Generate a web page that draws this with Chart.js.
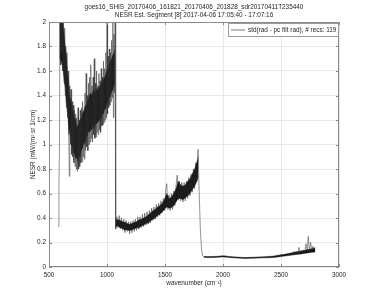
<!DOCTYPE html>
<html>
<head>
<meta charset="utf-8">
<script src="https://cdn.jsdelivr.net/npm/chart.js@4.4.1/dist/chart.umd.min.js"></script>
<style>
  html, body { margin: 0; padding: 0; background: #fff; }
  #wrap { width: 375px; height: 301px; }
</style>
</head>
<body>
<div id="wrap"><canvas id="nesrChart"></canvas></div>
<script>
// ====== TEXT ======
const titleLines = [
  "goes16_SHIS_20170406_161821_20170406_201828_sdr20170411T235440",
  "NESR Est. Segment [8] 2017-04-06 17:05:40 - 17:07:16"
];
const legendLabel = "std(rad - pc filt rad), # recs: 119";

// ====== TICKS ======
const xTicks = [500, 1000, 1500, 2000, 2500, 3000];
const yTicks = [0, 0.2, 0.4, 0.6, 0.8, 1, 1.2, 1.4, 1.6, 1.8, 2];

// ====== SPECTRUM ======
// band 1: 580..1070 cm-1, every 5
const band1Start = 580, band1Step = 5;
const band1 = [
  0.33, 0.6, 0.95, 2.2, 1.65, 2.1, 1.75, 2.3, 1.6, 2.05,
  1.5, 1.95, 1.4, 1.8, 1.3, 1.75, 1.22, 1.6, 1.08, 0.74,
  1.48, 1.0, 1.45, 0.92, 1.35, 0.9, 1.32, 0.85, 1.28, 0.82,
  1.25, 0.8, 1.22, 0.78, 1.3, 0.8, 1.2, 0.82, 1.28, 0.85,
  1.3, 0.86, 1.35, 0.9, 1.28, 0.88, 1.42, 0.95, 1.58, 0.98,
  1.4, 0.95, 1.5, 1.0, 1.55, 1.02, 1.65, 1.05, 1.48, 1.02,
  1.55, 1.08, 1.7, 1.05, 1.5, 1.06, 1.6, 1.1, 1.48, 1.08,
  1.58, 1.12, 1.52, 1.1, 1.62, 1.15, 1.55, 1.16, 1.68, 1.18,
  1.62, 1.2, 1.75, 1.22, 2.1, 1.25, 1.72, 1.3, 1.78, 1.32,
  1.75, 1.35, 1.85, 1.38, 2.2, 1.22, 1.9, 1.42, 2.1
];
// band 2: 1075..1825 cm-1, every 10
const band2Start = 1075, band2Step = 10;
const band2 = [
  0.31, 0.41, 0.32, 0.42, 0.31, 0.4, 0.3, 0.39, 0.28, 0.38,
  0.29, 0.37, 0.27, 0.37, 0.28, 0.38, 0.29, 0.39, 0.3, 0.41,
  0.31, 0.41, 0.32, 0.43, 0.33, 0.44, 0.34, 0.45, 0.35, 0.46,
  0.36, 0.48, 0.38, 0.49, 0.39, 0.51, 0.41, 0.52, 0.42, 0.54,
  0.44, 0.56, 0.46, 0.62, 0.68, 0.47, 0.59, 0.46, 0.6, 0.47,
  0.62, 0.5, 0.66, 0.75, 0.55, 0.7, 0.54, 0.69, 0.53, 0.69,
  0.54, 0.7, 0.56, 0.73, 0.58, 0.76, 0.61, 0.8, 0.64, 0.85,
  0.7, 0.96, 0.6, 0.3, 0.14, 0.09
];
// band 3: 1835..2795 cm-1, every 10
const band3Start = 1835, band3Step = 10;
const band3 = [
  0.085, 0.08, 0.083, 0.078, 0.082, 0.079, 0.084, 0.08, 0.083, 0.081,
  0.084, 0.082, 0.086, 0.083, 0.088, 0.085, 0.09, 0.086, 0.092, 0.088,
  0.086, 0.083, 0.085, 0.08, 0.082, 0.078, 0.081, 0.077, 0.08, 0.076,
  0.078, 0.074, 0.077, 0.073, 0.076, 0.072, 0.075, 0.073, 0.076, 0.074,
  0.077, 0.074, 0.078, 0.075, 0.079, 0.076, 0.08, 0.077, 0.081, 0.078,
  0.08, 0.077, 0.082, 0.078, 0.083, 0.079, 0.082, 0.08, 0.084, 0.081,
  0.085, 0.082, 0.088, 0.086, 0.094, 0.089, 0.098, 0.092, 0.1, 0.095,
  0.104, 0.097, 0.108, 0.1, 0.112, 0.102, 0.118, 0.105, 0.13, 0.108,
  0.125, 0.11, 0.16, 0.115, 0.135, 0.118, 0.14, 0.12, 0.19, 0.125,
  0.25, 0.13, 0.2, 0.135, 0.17, 0.14, 0.16
];

// ====== NOISE ENVELOPES (dense dark core of the noisy trace) ======
const env1Wn = [590, 600, 610, 620, 630, 640, 650, 660, 670, 680, 690, 700, 710, 720, 730,
  740, 750, 760, 770, 780, 790, 800, 810, 820, 830, 840, 850, 860, 870, 880, 890, 900,
  910, 920, 930, 940, 950, 960, 970, 980, 990, 1000, 1010, 1020, 1030, 1040, 1050, 1060, 1068];
const env1Lo = [1.7, 1.7, 1.66, 1.62, 1.53, 1.46, 1.33, 1.26, 1.14, 1.09, 1.0, 0.99, 0.93, 0.93, 0.88,
  0.9, 0.86, 0.91, 0.9, 0.96, 0.97, 1.02, 1.0, 1.06, 1.07, 1.11, 1.1, 1.12, 1.12, 1.16, 1.13, 1.17,
  1.17, 1.18, 1.19, 1.21, 1.21, 1.25, 1.25, 1.29, 1.29, 1.34, 1.34, 1.39, 1.39, 1.43, 1.44, 1.48, 1.5];
const env1Hi = [2.0, 2.0, 2.0, 1.96, 1.9, 1.8, 1.72, 1.57, 1.51, 1.39, 1.36, 1.29, 1.26, 1.21, 1.21,
  1.14, 1.16, 1.17, 1.21, 1.21, 1.26, 1.27, 1.31, 1.32, 1.36, 1.37, 1.41, 1.42, 1.4, 1.44, 1.45, 1.42,
  1.46, 1.44, 1.48, 1.46, 1.5, 1.5, 1.54, 1.55, 1.58, 1.61, 1.62, 1.66, 1.68, 1.7, 1.73, 1.75, 1.78];

const env2Wn = [1075, 1095, 1115, 1135, 1155, 1175, 1195, 1215, 1235, 1255, 1275, 1295, 1315,
  1335, 1355, 1375, 1395, 1415, 1435, 1455, 1475, 1495, 1515, 1535, 1555, 1575, 1595, 1615,
  1635, 1655, 1675, 1695, 1715, 1735, 1755, 1775, 1788];
const env2Lo = [0.33, 0.335, 0.32, 0.315, 0.3, 0.305, 0.295, 0.305, 0.31, 0.32, 0.32, 0.335, 0.34,
  0.355, 0.36, 0.375, 0.39, 0.4, 0.42, 0.43, 0.45, 0.47, 0.49, 0.48, 0.485, 0.5, 0.53, 0.56,
  0.56, 0.55, 0.565, 0.58, 0.6, 0.63, 0.66, 0.7, 0.74];
const env2Hi = [0.39, 0.385, 0.38, 0.37, 0.365, 0.355, 0.35, 0.355, 0.365, 0.37, 0.385, 0.39, 0.4,
  0.41, 0.425, 0.44, 0.46, 0.47, 0.49, 0.5, 0.52, 0.55, 0.6, 0.56, 0.57, 0.6, 0.64, 0.7,
  0.67, 0.66, 0.67, 0.7, 0.72, 0.76, 0.8, 0.86, 0.9];

const env3Wn = [1835, 1875, 1915, 1955, 1995, 2035, 2075, 2115, 2155, 2195, 2235, 2275, 2315,
  2355, 2395, 2435, 2475, 2515, 2555, 2595, 2635, 2675, 2715, 2755, 2795];
const env3Lo = [0.078, 0.077, 0.078, 0.08, 0.082, 0.08, 0.076, 0.074, 0.072, 0.07, 0.071, 0.072, 0.074,
  0.075, 0.076, 0.078, 0.082, 0.087, 0.092, 0.097, 0.102, 0.107, 0.112, 0.118, 0.123];
const env3Hi = [0.086, 0.085, 0.086, 0.088, 0.091, 0.088, 0.084, 0.081, 0.079, 0.077, 0.079, 0.08, 0.082,
  0.084, 0.086, 0.089, 0.095, 0.102, 0.108, 0.116, 0.124, 0.131, 0.138, 0.146, 0.156];

function toPoints(start, step, vals) {
  return vals.map((v, i) => ({ x: start + i * step, y: v }));
}
function zipPoints(xs, ys) {
  return xs.map((x, i) => ({ x: x, y: ys[i] }));
}
const spectrum = []
  .concat(toPoints(band1Start, band1Step, band1))
  .concat(toPoints(band2Start, band2Step, band2))
  .concat(toPoints(band3Start, band3Step, band3));

const FONT = "'Liberation Sans', Arial, Helvetica, sans-serif";
const TXT = "#262626";
const CORE = "#141414";

function envPair(xs, lo, hi) {
  return [
    { data: zipPoints(xs, lo), borderColor: CORE, borderWidth: 0.4, pointRadius: 0, fill: false, order: 2 },
    { data: zipPoints(xs, hi), borderColor: CORE, borderWidth: 0.4, pointRadius: 0, fill: "-1",
      backgroundColor: CORE, order: 2 }
  ];
}

// box, inward ticks, titles and legend (matlab look)
const matlabDecor = {
  id: "matlabDecor",
  afterDraw(chart) {
    const { ctx, chartArea: a, scales } = chart;
    ctx.save();
    ctx.strokeStyle = "#8a8a8a";
    ctx.lineWidth = 1;
    ctx.strokeRect(a.left + 0.5, a.top + 0.5, a.right - a.left - 1, a.bottom - a.top - 1);
    ctx.beginPath();
    yTicks.forEach(t => {
      const y = Math.round(scales.y.getPixelForValue(t)) + 0.5;
      ctx.moveTo(a.left, y); ctx.lineTo(a.left + 3, y);
      ctx.moveTo(a.right, y); ctx.lineTo(a.right - 3, y);
    });
    xTicks.forEach(t => {
      const x = Math.round(scales.x.getPixelForValue(t)) + 0.5;
      ctx.moveTo(x, a.bottom); ctx.lineTo(x, a.bottom - 3);
      ctx.moveTo(x, a.top); ctx.lineTo(x, a.top + 3);
    });
    ctx.stroke();

    // titles
    const cx = (a.left + a.right) / 2;
    ctx.fillStyle = TXT;
    ctx.font = "6.4px " + FONT;
    ctx.textAlign = "center";
    ctx.textBaseline = "middle";
    ctx.fillText(titleLines[0], cx, 7);
    ctx.fillText(titleLines[1], cx, 15.5);

    // legend box
    const bx = 228, by = 23, bw = a.right - 228 - 1, bh = 13;
    ctx.fillStyle = "#fff";
    ctx.fillRect(bx, by, bw, bh);
    ctx.strokeStyle = "#9a9a9a";
    ctx.strokeRect(bx + 0.5, by + 0.5, bw, bh);
    ctx.strokeStyle = "#555";
    ctx.lineWidth = 0.8;
    ctx.beginPath();
    ctx.moveTo(231, by + bh / 2 + 0.5);
    ctx.lineTo(245, by + bh / 2 + 0.5);
    ctx.stroke();
    ctx.fillStyle = TXT;
    ctx.font = "6.4px " + FONT;
    ctx.textAlign = "left";
    ctx.fillText(legendLabel, 248, by + bh / 2 + 0.5);
    ctx.restore();
  }
};

const ctx = document.getElementById("nesrChart").getContext("2d");
new Chart(ctx, {
  type: "line",
  data: {
    datasets: [{
      label: legendLabel,
      data: spectrum,
      borderColor: "#2a2a2a",
      borderWidth: 0.5,
      pointRadius: 0,
      tension: 0,
      fill: false,
      order: 1
    }]
      .concat(envPair(env1Wn, env1Lo, env1Hi))
      .concat(envPair(env2Wn, env2Lo, env2Hi))
      .concat(envPair(env3Wn, env3Lo, env3Hi))
  },
  options: {
    responsive: true,
    maintainAspectRatio: false,
    animation: false,
    parsing: false,
    layout: { padding: { left: 25, right: 36, top: 22, bottom: 10 } },
    plugins: {
      legend: { display: false },
      title: { display: false },
      tooltip: { enabled: false },
      filler: { propagate: false }
    },
    scales: {
      x: {
        type: "linear",
        min: 500,
        max: 3000,
        afterBuildTicks: s => { s.ticks = xTicks.map(v => ({ value: v })); },
        afterFit: s => { s.height = 24; },
        grid: { color: "#e8e8e8", drawTicks: false },
        border: { display: false },
        ticks: { color: TXT, font: { family: FONT, size: 6.4 }, padding: 4, maxRotation: 0,
          callback: v => String(v) },
        title: {
          display: true,
          text: "wavenumber (cm\u207B\u00B9)",
          color: TXT,
          font: { family: FONT, size: 6.4 },
          padding: { top: 0, bottom: 4 }
        }
      },
      y: {
        min: 0,
        max: 2,
        afterBuildTicks: s => { s.ticks = yTicks.map(v => ({ value: v })); },
        afterFit: s => { s.width = 24; },
        grid: { color: "#e8e8e8", drawTicks: false },
        border: { display: false },
        ticks: { color: TXT, font: { family: FONT, size: 6.4 }, padding: 3,
          callback: v => String(v) },
        title: {
          display: true,
          text: "NESR (mW/(m\u00B2 sr 1/cm)",
          color: TXT,
          font: { family: FONT, size: 6.4 },
          padding: { top: 4, bottom: 0 }
        }
      }
    }
  },
  plugins: [matlabDecor]
});
</script>
</body>
</html>
